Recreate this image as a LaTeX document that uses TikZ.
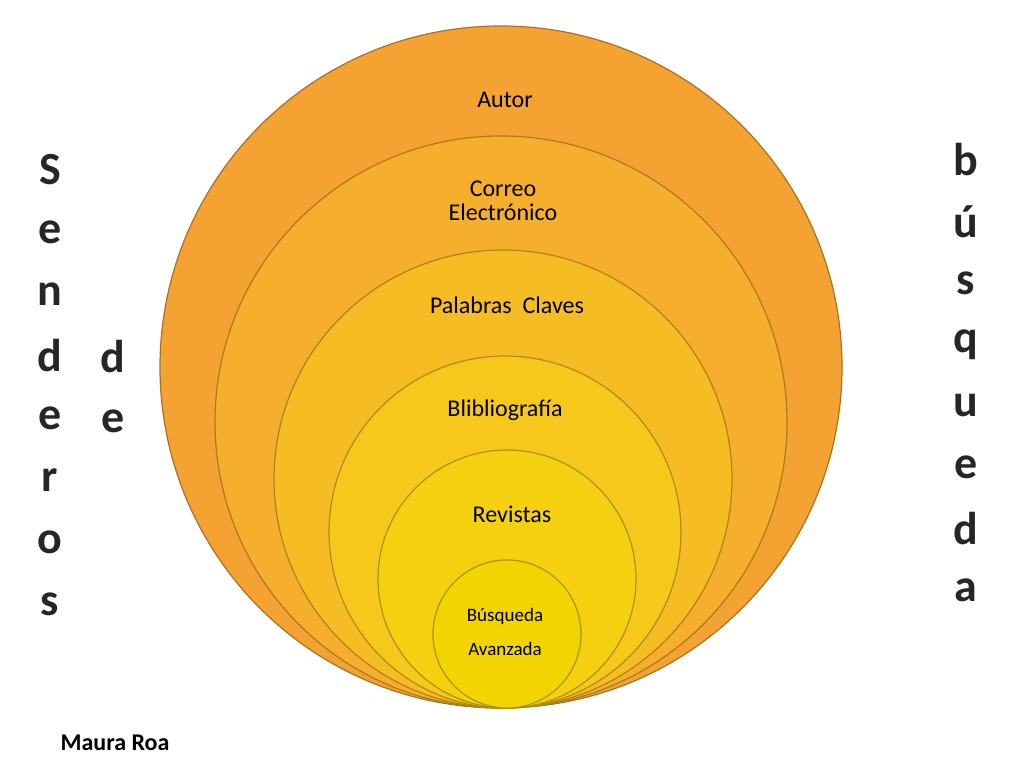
\documentclass[tikz,border=0pt]{standalone}
\usepackage{fontspec}
\setmainfont{Carlito}
\usetikzlibrary{shadows}

\tikzset{
  ring/.style={draw=#1!70!black, line width=1.2pt, fill=#1},
  lbl/.style={font=\fontsize{24}{26}\selectfont, align=center},
  letter/.style={font=\bfseries\fontsize{46}{48}\selectfont, text=black!85,
    inner sep=0pt}
}
\definecolor{ringA}{HTML}{F4A232}
\definecolor{ringB}{HTML}{F5AF2C}
\definecolor{ringC}{HTML}{F6BC24}
\definecolor{ringD}{HTML}{F6C81C}
\definecolor{ringE}{HTML}{F4D010}
\definecolor{ringF}{HTML}{F2D400}

\begin{document}
\begin{tikzpicture}[x=1pt,y=-1pt]
  \useasboundingbox (0,0) rectangle (1024,768);
  \fill[white] (0,0) rectangle (1024,768);

  % nested circles, all touching at the bottom
  \node (autor) [circle, ring=ringA, minimum size=682, inner sep=0pt] at (501,367) {};
  \node (correo) [circle, ring=ringB, minimum size=572, inner sep=0pt] at (501,422) {};
  \node (palabras) [circle, ring=ringC, minimum size=458, inner sep=0pt] at (503,479) {};
  \node (biblio) [circle, ring=ringD, minimum size=352, inner sep=0pt] at (505,532) {};
  \node (revistas) [circle, ring=ringE, minimum size=258, inner sep=0pt] at (507,579) {};
  \node (busqueda) [circle, ring=ringF, minimum size=148, inner sep=0pt] at (507,634) {};

  \node[lbl] (tA) at (505,100) {Autor};
  \node[lbl] (tB) at (503,201) {Correo\\[-2pt]Electrónico};
  \node[lbl] (tC) at (507,305) {Palabras\ \ Claves};
  \node[lbl] (tD) at (505,410) {Blibliografía};
  \node[lbl] (tE) at (512,514) {Revistas};
  \node[lbl, font=\fontsize{19}{34}\selectfont] (tF) at (505,632) {Búsqueda\\Avanzada};

  % vertical words
  \foreach \c [count=\i] in {S,e,n,d,e,r,o,s}
    \node[letter] (s\i) at (50,{170+62*(\i-1)}) {\c};
  \node[letter] (d1) at (113,357) {d};
  \node[letter] (d2) at (113,421) {e};
  \foreach \c [count=\i] in {b,ú,s,q,u,e,d,a}
    \node[letter] (b\i) at (966,{160+61.5*(\i-1)}) {\c};

  \node[font=\bfseries\fontsize{24}{26}\selectfont] (autora) at (115,743) {Maura Roa};
\end{tikzpicture}
\end{document}
